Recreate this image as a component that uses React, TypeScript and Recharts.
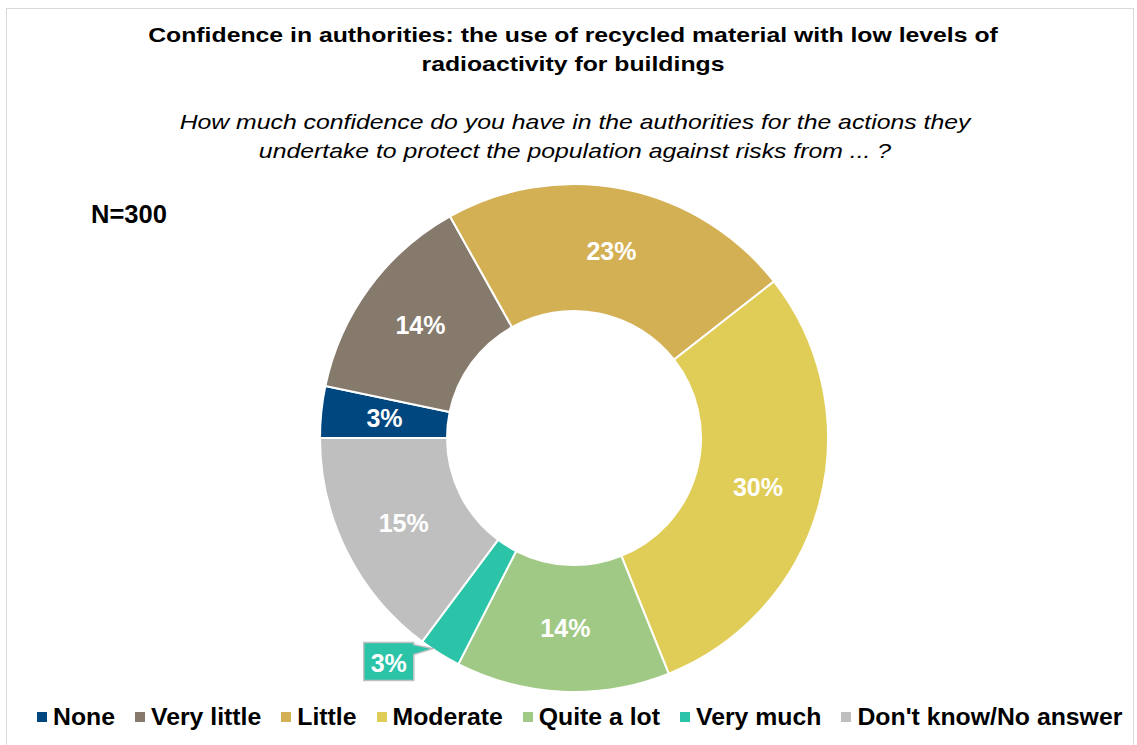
import React from "react";
import { PieChart, Pie, Cell, Legend } from "recharts";

const categories = [
  "None",
  "Very little",
  "Little",
  "Moderate",
  "Quite a lot",
  "Very much",
  "Don't know/No answer",
];
const shares = [3.3, 13.7, 22.7, 29.7, 13.7, 2.7, 14.9];
const colors = ["#00467f", "#857a6c", "#d4b055", "#e0cd57", "#a0c985", "#2bc4a8", "#bfbfbf"];

const titleLines = [
  "Confidence in authorities: the use of recycled material with low levels of",
  "radioactivity for buildings",
];
const questionLines = [
  "How much confidence do you have in the authorities for the actions they",
  "undertake to protect the population against risks from ... ?",
];
const sampleLabel = "N=300";

const FONT = '"Liberation Sans", Arial, sans-serif';
const RADIAN = Math.PI / 180;

const data = categories.map((name, i) => ({ name, value: shares[i] }));

const renderLabel = (props: any) => {
  const { cx, cy, midAngle, innerRadius, outerRadius, index, value } = props;
  const text = `${Math.round(value)}%`;

  // small slice gets a callout box outside the ring
  if (categories[index] === "Very much") {
    const ox = cx + outerRadius * Math.cos(-midAngle * RADIAN);
    const oy = cy + outerRadius * Math.sin(-midAngle * RADIAN);
    const left = ox - 76;
    const top = oy - 11;
    const w = 50;
    const h = 38;
    const tipX = ox - 7;
    const tipY = oy - 5;
    const d = `M${left},${top} L${left + w},${top} L${left + w},${top + 2} L${tipX},${tipY} L${left + w},${top + 12} L${left + w},${top + h} L${left},${top + h} Z`;
    return (
      <g>
        <path d={d} fill={colors[index]} stroke="#bfbfbf" strokeWidth={1.5} />
        <text
          x={left + w / 2}
          y={top + h / 2 + 1}
          fill="#fff"
          textAnchor="middle"
          dominantBaseline="central"
          fontWeight="bold"
          fontSize={25}
          fontFamily={FONT}
        >
          {text}
        </text>
      </g>
    );
  }

  const r = (innerRadius + outerRadius) / 2;
  const x = cx + r * Math.cos(-midAngle * RADIAN);
  const y = cy + r * Math.sin(-midAngle * RADIAN);
  return (
    <text
      x={x}
      y={y}
      fill="#fff"
      textAnchor="middle"
      dominantBaseline="central"
      fontWeight="bold"
      fontSize={25}
      fontFamily={FONT}
    >
      {text}
    </text>
  );
};

const LegendContent = () => (
  <div
    style={{
      display: "flex",
      gap: 20,
      paddingLeft: 37,
      fontFamily: FONT,
      fontWeight: "bold",
      fontSize: 24.8,
      color: "#000",
      whiteSpace: "nowrap",
    }}
  >
    {categories.map((c, i) => (
      <div key={c} style={{ display: "flex", alignItems: "center" }}>
        <span
          style={{
            width: 10,
            height: 10,
            background: colors[i],
            marginRight: 6,
            display: "inline-block",
          }}
        />
        <span>{c}</span>
      </div>
    ))}
  </div>
);

export default function App() {
  return (
    <div
      style={{
        position: "absolute",
        left: 0,
        top: 0,
        width: 1137,
        height: 745,
        background: "#fff",
        overflow: "hidden",
        fontFamily: FONT,
      }}
    >
      {/* frame */}
      <div
        style={{
          position: "absolute",
          left: 6,
          top: 8,
          width: 1126,
          height: 760,
          border: "1px solid #d9d9d9",
        }}
      />

      {/* Title */}
      <div
        style={{
          position: "absolute",
          top: 20,
          left: 0,
          width: 1146,
          textAlign: "center",
          fontWeight: "bold",
          fontSize: 21,
          lineHeight: "29px",
          color: "#000",
          transform: "scaleX(1.18)",
          transformOrigin: "573px 0",
        }}
      >
        {titleLines.map((l) => (
          <div key={l}>{l}</div>
        ))}
      </div>

      {/* Question */}
      <div
        style={{
          position: "absolute",
          top: 107,
          left: 0,
          width: 1150,
          textAlign: "center",
          fontStyle: "italic",
          fontSize: 21,
          lineHeight: "29px",
          color: "#000",
          transform: "scaleX(1.18)",
          transformOrigin: "575px 0",
        }}
      >
        {questionLines.map((l) => (
          <div key={l}>{l}</div>
        ))}
      </div>

      <div
        style={{
          position: "absolute",
          top: 200,
          left: 91,
          fontWeight: "bold",
          fontSize: 25.5,
          color: "#000",
        }}
      >
        {sampleLabel}
      </div>

      <div style={{ position: "absolute", left: 0, top: 0 }}>
        <PieChart width={1137} height={745} margin={{ top: 0, right: 0, bottom: 0, left: 0 }}>
          <Pie
            data={data}
            dataKey="value"
            nameKey="name"
            cx={574}
            cy={438}
            innerRadius={127}
            outerRadius={254}
            startAngle={180}
            endAngle={-180}
            stroke="#fff"
            strokeWidth={2}
            label={renderLabel}
            labelLine={false}
            isAnimationActive={false}
          >
            {data.map((d, i) => (
              <Cell key={d.name} fill={colors[i]} />
            ))}
          </Pie>
          <Legend
            content={<LegendContent />}
            wrapperStyle={{ position: "absolute", top: 703, left: 0, width: 1137 }}
          />
        </PieChart>
      </div>
    </div>
  );
}
